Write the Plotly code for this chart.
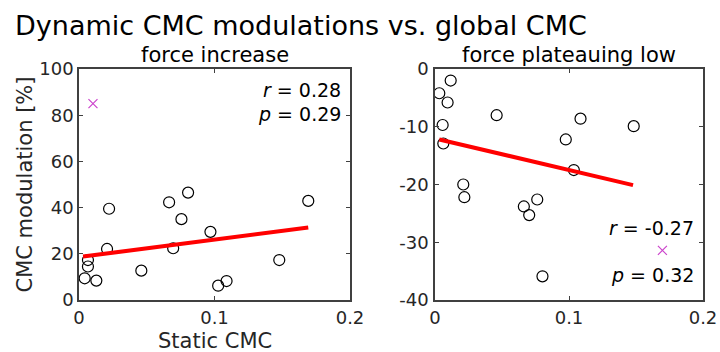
import plotly.graph_objects as go

# ---- data ----
inc_x = [0.0042, 0.0066, 0.0066, 0.0128, 0.0207, 0.0222, 0.0460, 0.0665,
         0.0695, 0.0756, 0.0805, 0.0970, 0.1027, 0.1089, 0.1478, 0.1692]
inc_y = [9.4, 17.3, 14.5, 8.4, 22.1, 39.5, 12.7, 42.3,
         22.4, 35.0, 46.5, 29.5, 6.2, 8.2, 17.3, 42.9]
inc_out_x = [0.0103]
inc_out_y = [85.0]
inc_fit_x = [0.0030, 0.1692]
inc_fit_y = [18.8, 31.4]

pl_x = [0.0032, 0.0117, 0.0094, 0.0057, 0.0062, 0.0211, 0.0219, 0.0460,
        0.0663, 0.0703, 0.0763, 0.0802, 0.0976, 0.1036, 0.1086, 0.1483]
pl_y = [-4.2, -2.0, -5.8, -9.7, -12.9, -20.0, -22.2, -8.0,
        -23.8, -25.3, -22.6, -35.9, -12.2, -17.5, -8.6, -9.9]
pl_out_x = [0.1697]
pl_out_y = [-31.4]
pl_fit_x = [0.0032, 0.1478]
pl_fit_y = [-12.2, -20.1]

x_ticks = [0, 0.1, 0.2]
x_ticktext = ["0", "0.1", "0.2"]
inc_yticks = [0, 20, 40, 60, 80, 100]
inc_yticktext = ["0", "20", "40", "60", "80", "100"]
pl_yticks = [-40, -30, -20, -10, 0]
pl_yticktext = ["-40", "-30", "-20", "-10", "0"]

main_title = "Dynamic CMC modulations vs. global CMC"
sub_titles = ["force increase", "force plateauing low"]
stats_inc = ["<i>r</i> = 0.28", "<i>p</i> = 0.29"]
stats_pl = ["<i>r</i> = -0.27", "<i>p</i> = 0.32"]
x_title = "Static CMC"
y_title = "CMC modulation [%]"

FONT = "DejaVu Sans"
AX = "#404040"
TXT = "#262626"
MAG = "#cc44cc"

fig = go.Figure()

def add_panel(xs, ys, ox, oy, fx, fy, xa, ya):
    fig.add_trace(go.Scatter(x=xs, y=ys, mode="markers", xaxis=xa, yaxis=ya,
                             marker=dict(symbol="circle-open", size=11,
                                         color="black", line=dict(width=1.2)),
                             showlegend=False, hoverinfo="skip"))
    fig.add_trace(go.Scatter(x=ox, y=oy, mode="markers", xaxis=xa, yaxis=ya,
                             marker=dict(symbol="x-thin-open", size=9,
                                         color=MAG, line=dict(width=1.2, color=MAG)),
                             showlegend=False, hoverinfo="skip"))
    fig.add_trace(go.Scatter(x=fx, y=fy, mode="lines", xaxis=xa, yaxis=ya,
                             line=dict(color="#ff0000", width=4),
                             showlegend=False, hoverinfo="skip"))

add_panel(inc_x, inc_y, inc_out_x, inc_out_y, inc_fit_x, inc_fit_y, "x", "y")
add_panel(pl_x, pl_y, pl_out_x, pl_out_y, pl_fit_x, pl_fit_y, "x2", "y2")

W, H = 720, 352
ydom = [(H - 300) / H, (H - 69) / H]

axis_common = dict(showline=True, linecolor=AX, linewidth=1.5, mirror="ticks",
                   ticks="inside", ticklen=4, tickwidth=1.2, tickcolor=AX,
                   showgrid=False, zeroline=False, automargin=False,
                   tickfont=dict(family=FONT, size=18, color=TXT))

fig.update_layout(
    template="none", autosize=False,
    width=W, height=H, margin=dict(l=0, r=0, t=0, b=0, pad=0),
    paper_bgcolor="white", plot_bgcolor="white",
    xaxis=dict(domain=[79 / W, 350 / W], range=[0, 0.2], anchor="y",
               tickvals=x_ticks, ticktext=x_ticktext, ticklabelstandoff=1,
               **axis_common),
    yaxis=dict(domain=ydom, range=[0, 100], anchor="x",
               tickvals=inc_yticks, ticktext=inc_yticktext, ticklabelstandoff=0,
               **axis_common),
    xaxis2=dict(domain=[435 / W, 703 / W], range=[0, 0.2], anchor="y2",
                tickvals=x_ticks, ticktext=x_ticktext, ticklabelstandoff=1,
                **axis_common),
    yaxis2=dict(domain=ydom, range=[-40, 0], anchor="x2",
                tickvals=pl_yticks, ticktext=pl_yticktext, ticklabelstandoff=1,
                **axis_common),
)

ann = []
ann.append(dict(text=main_title, x=13 / W, y=1 - 25 / H, xref="paper", yref="paper",
                xanchor="left", yanchor="middle", showarrow=False,
                font=dict(family=FONT, size=27, color="black")))
ann.append(dict(text=sub_titles[0], x=0.5, y=1 - 55 / H, xref="x domain", yref="paper",
                xanchor="center", yanchor="middle", showarrow=False,
                font=dict(family=FONT, size=21, color="black")))
ann.append(dict(text=sub_titles[1], x=0.5, y=1 - 55 / H, xref="x2 domain", yref="paper",
                xanchor="center", yanchor="middle", showarrow=False,
                font=dict(family=FONT, size=21, color="black")))
ann.append(dict(text=x_title, x=0.5, y=1 - 341 / H, xref="x domain", yref="paper",
                xanchor="center", yanchor="middle", showarrow=False,
                font=dict(family=FONT, size=21, color=TXT)))
ann.append(dict(text=y_title, x=24 / W, y=0.5, xref="paper", yref="y domain",
                xanchor="center", yanchor="middle", showarrow=False, textangle=-90,
                font=dict(family=FONT, size=21, color=TXT)))
for txt, py in zip(stats_inc, [90, 114]):
    ann.append(dict(text=txt, x=343 / W, y=1 - py / H, xref="paper", yref="paper",
                    xanchor="right", yanchor="middle", showarrow=False,
                    font=dict(family=FONT, size=19, color="black")))
for txt, py in zip(stats_pl, [228, 275]):
    ann.append(dict(text=txt, x=696 / W, y=1 - py / H, xref="paper", yref="paper",
                    xanchor="right", yanchor="middle", showarrow=False,
                    font=dict(family=FONT, size=19, color="black")))
fig.update_layout(annotations=ann)

fig.write_html("out.html")
